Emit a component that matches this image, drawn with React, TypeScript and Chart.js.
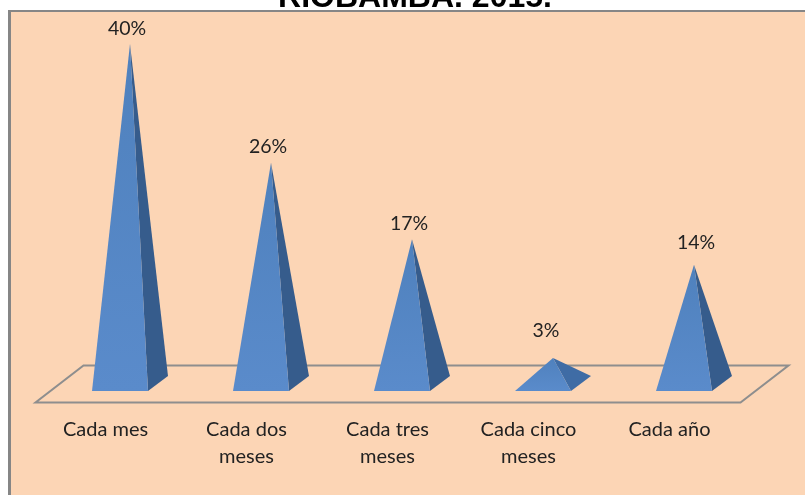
import React, { useEffect, useRef } from "react";
import { Chart, registerables } from "chart.js";

Chart.register(...registerables);

const categories = [["Cada mes"], ["Cada dos", "meses"], ["Cada tres", "meses"], ["Cada cinco", "meses"], ["Cada año"]];
const values = [40, 26, 17, 3, 14];
const titleText = "RIOBAMBA. 2015.";
const labelNudgeX = [-3, -3, -3, -7, 2];
const labelNudgeY = [15, 16, 15, 27, 22];

const FONT = "Lato, 'Open Sans', sans-serif";
const DEPTH_X = 20;
const DEPTH_Y = 15;

const scenePlugin = {
  id: "scene",
  beforeDraw(chart: any) {
    const { ctx, width, height, chartArea } = chart;
    ctx.save();
    ctx.fillStyle = "#ffffff";
    ctx.fillRect(0, 0, width, height);
    ctx.fillStyle = "#868686";
    ctx.fillRect(8, 10, width - 8, height - 10);
    ctx.fillStyle = "#FCD5B5";
    ctx.fillRect(11, 12, width - 11, height - 12);
    ctx.fillStyle = "#000000";
    ctx.font = "bold 32px 'Liberation Sans', Arial, sans-serif";
    ctx.textAlign = "center";
    ctx.textBaseline = "alphabetic";
    ctx.fillText(titleText, 415, 7);
    const midY = chartArea.bottom;
    ctx.strokeStyle = "#8E8E8E";
    ctx.lineWidth = 2;
    ctx.beginPath();
    ctx.moveTo(chartArea.left - 24, midY + 19);
    ctx.lineTo(chartArea.right - 24, midY + 19);
    ctx.lineTo(chartArea.right + 24, midY - 18);
    ctx.lineTo(chartArea.left + 24, midY - 18);
    ctx.closePath();
    ctx.stroke();
    ctx.restore();
  },
  afterDatasetsDraw(chart: any) {
    const { ctx } = chart;
    const bars = chart.getDatasetMeta(0).data;
    bars.forEach((bar: any, i: number) => {
      const half = bar.width / 2;
      const frontX = bar.x - DEPTH_X / 2;
      const frontY = bar.base + DEPTH_Y / 2;
      const right = frontX + half;
      const small = values[i] < 5;
      ctx.save();
      ctx.fillStyle = small ? "#3F6CA5" : "#365C8C";
      ctx.beginPath();
      ctx.moveTo(right, frontY);
      ctx.lineTo(right + DEPTH_X, frontY - DEPTH_Y);
      ctx.lineTo(bar.x, bar.y);
      ctx.closePath();
      ctx.fill();
      const g = ctx.createLinearGradient(0, bar.y, 0, frontY);
      g.addColorStop(0, "#4F81BD");
      g.addColorStop(1, "#5A8BCB");
      ctx.fillStyle = g;
      ctx.beginPath();
      ctx.moveTo(frontX - half, frontY);
      ctx.lineTo(right, frontY);
      ctx.lineTo(bar.x, bar.y);
      ctx.closePath();
      ctx.fill();
      ctx.fillStyle = "#222222";
      ctx.font = `19.5px ${FONT}`;
      ctx.textAlign = "center";
      ctx.textBaseline = "middle";
      ctx.fillText(`${values[i]}%`, bar.x + labelNudgeX[i], bar.y - labelNudgeY[i]);
      ctx.restore();
    });
  },
};

export default function App() {
  const ref = useRef<HTMLCanvasElement>(null);
  useEffect(() => {
    const chart = new Chart(ref.current!, {
      type: "bar",
      data: {
        labels: categories,
        datasets: [
          {
            data: values,
            backgroundColor: "transparent",
            borderWidth: 0,
            barPercentage: 0.397,
            categoryPercentage: 1,
          },
        ],
      },
      options: {
        responsive: false,
        animation: false,
        devicePixelRatio: 1,
        layout: { padding: { top: 44, left: 59.5, right: 40.5, bottom: 0 } },
        plugins: {
          legend: { display: false },
          tooltip: { enabled: false },
          title: { display: false },
        },
        scales: {
          x: {
            grid: { display: false },
            border: { display: false },
            afterFit(scale: any) {
              scale.height = 111.5;
            },
            ticks: {
              color: "#222222",
              font: { family: FONT, size: 20, lineHeight: 1.35 },
              labelOffset: -24.5,
              padding: 25,
              maxRotation: 0,
              minRotation: 0,
              autoSkip: false,
            },
          },
          y: { display: false, min: 0, max: 40 },
        },
      },
      plugins: [scenePlugin],
    } as any);
    return () => chart.destroy();
  }, []);
  return (
    <div style={{ position: "fixed", left: 0, top: 0 }}>
      <canvas ref={ref} width={805} height={495} style={{ display: "block" }} />
    </div>
  );
}
